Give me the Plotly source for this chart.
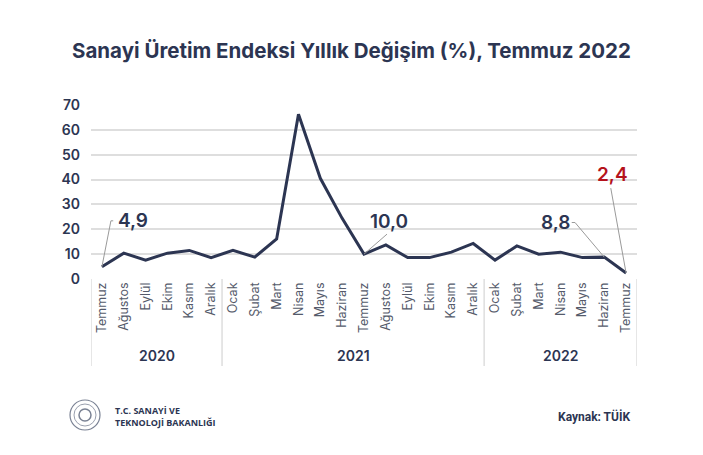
import plotly.graph_objects as go

months = ["Temmuz", "Ağustos", "Eylül", "Ekim", "Kasım", "Aralık",
          "Ocak", "Şubat", "Mart", "Nisan", "Mayıs", "Haziran", "Temmuz",
          "Ağustos", "Eylül", "Ekim", "Kasım", "Aralık",
          "Ocak", "Şubat", "Mart", "Nisan", "Mayıs", "Haziran", "Temmuz"]
years = ["2020", "2021", "2022"]
year_counts = [6, 12, 7]
values = [4.9, 10.4, 7.6, 10.4, 11.5, 8.6,
          11.5, 8.8, 16.1, 66.3, 40.5, 24.4, 10.0,
          13.7, 8.6, 8.6, 10.8, 14.3,
          7.6, 13.3, 10.0, 10.8, 8.6, 8.8, 2.4]
labelled = {0: "4,9", 12: "10,0", 23: "8,8", 24: "2,4"}

NAVY = "#2c3552"
x = list(range(len(values)))

fig = go.Figure()
fig.add_trace(go.Scatter(x=x, y=values, mode="lines",
                         line=dict(color=NAVY, width=3), hoverinfo="skip"))

W, H = 703, 455
L, R, T, B = 91, 66, 105, 176
pw, ph = W - L - R, H - T - B

def px2paper(px, py):
    return (px - L) / pw, (H - B - py) / ph

shapes = []
annotations = []

# year dividers
bounds = [-0.5]
for c in year_counts:
    bounds.append(bounds[-1] + c)
ybot = px2paper(0, 366)[1]
for b in bounds:
    shapes.append(dict(type="line", xref="x", yref="paper", x0=b, x1=b, y0=0, y1=ybot,
                       line=dict(color="#d5d5d5", width=1.2)))
yyear = px2paper(0, 355)[1]
for i, yr in enumerate(years):
    cx = (bounds[i] + bounds[i + 1]) / 2
    annotations.append(dict(x=cx, y=yyear, xref="x", yref="paper", text=yr, showarrow=False,
                            font=dict(family="Inter", size=14, color=NAVY, weight=600),
                            xanchor="center", yanchor="middle"))

# leader lines (pixel offsets relative to data points)
leaders = {0: [(0, 0), (9, 46), (11.3, 46)],
           12: [(0, 0), (23, 20)],
           23: [(0, 0), (-29.2, 34.6), (-32.5, 34.6)],
           24: [(0, 0), (-15.3, 84.9)]}
for idx, pts in leaders.items():
    path = "M " + " L ".join(f"{a},{b}" for a, b in pts)
    shapes.append(dict(type="path", xref="x", yref="y", xsizemode="pixel", ysizemode="pixel",
                       xanchor=x[idx], yanchor=values[idx], path=path,
                       line=dict(color="#9a9a9a", width=1)))

shifts = {0: (30.8, 46.7), 12: (25.3, 32.6), 23: (-48.9, 34.6), 24: (-14, 98.2)}
for idx, txt in labelled.items():
    dx, dy = shifts[idx]
    annotations.append(dict(x=x[idx], y=values[idx], xref="x", yref="y", text=txt,
                            showarrow=False, xshift=dx, yshift=dy,
                            font=dict(family="Inter", size=19,
                                      color="#b5121b" if idx == 24 else NAVY, weight=600),
                            xanchor="center", yanchor="middle"))

# title
tx, ty = px2paper(351.5, 50)
annotations.append(dict(x=tx, y=ty, xref="paper", yref="paper",
                        text="Sanayi Üretim Endeksi Yıllık Değişim (%), Temmuz 2022",
                        showarrow=False, xanchor="center", yanchor="middle",
                        font=dict(family="Inter", size=20.5, color=NAVY, weight=700)))

# logo
cx, cy = 85, 415
for r, col, w in [(15, "#7a8294", 1.2), (11, "#9aa0ae", 1), (6, "#7a8294", 1.5)]:
    x0, y0 = px2paper(cx - r, cy + r)
    x1, y1 = px2paper(cx + r, cy - r)
    shapes.append(dict(type="circle", xref="paper", yref="paper", x0=x0, x1=x1, y0=y0, y1=y1,
                       line=dict(color=col, width=w)))
for txt, py in [("T.C. SANAYİ VE", 410), ("TEKNOLOJİ BAKANLIĞI", 422)]:
    xx, yy = px2paper(113, py)
    annotations.append(dict(x=xx, y=yy, xref="paper", yref="paper", text=txt, showarrow=False,
                            xanchor="left", yanchor="middle",
                            font=dict(family="Open Sans", size=9, color=NAVY, weight=700)))
xx, yy = px2paper(632, 416)
annotations.append(dict(x=xx, y=yy, xref="paper", yref="paper", text="Kaynak: TÜİK",
                        showarrow=False, xanchor="right", yanchor="middle",
                        font=dict(family="Roboto", size=12, color=NAVY, weight=700)))

fig.update_layout(
    width=W, height=H, margin=dict(l=L, r=R, t=T, b=B),
    paper_bgcolor="white", plot_bgcolor="white", showlegend=False,
    shapes=shapes, annotations=annotations,
    xaxis=dict(range=[-0.5, len(values) - 0.5], tickmode="array", tickvals=x, ticktext=months,
               tickangle=-90, showgrid=False, zeroline=False, showline=False,
               tickfont=dict(family="Inter", size=12.5, color="#555b6b")),
    yaxis=dict(range=[0, 70], dtick=10, showgrid=True, gridcolor="#dedede", gridwidth=1.5,
               zeroline=False, showline=False, ticklabelstandoff=10,
               tickfont=dict(family="Inter", size=14, color=NAVY, weight=600)),
)

fig.write_html("out.html")
